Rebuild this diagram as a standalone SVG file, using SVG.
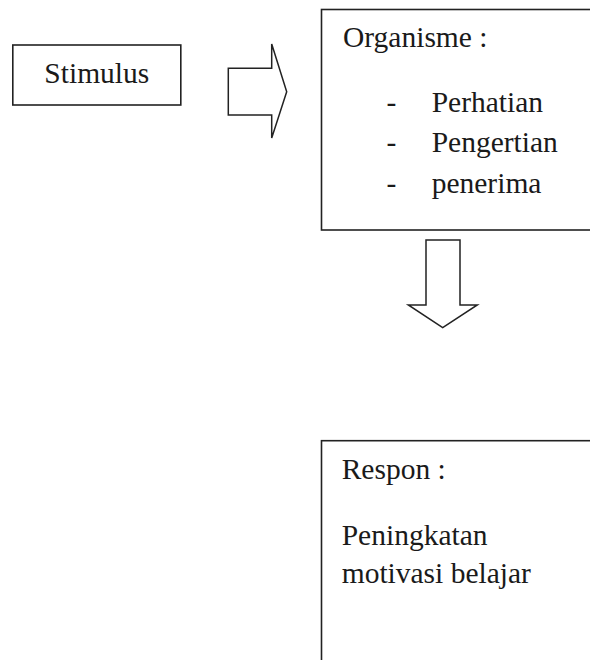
<svg xmlns="http://www.w3.org/2000/svg" width="590" height="660" viewBox="0 0 590 660">
<style>
.box{fill:#fff;stroke:#222;stroke-width:1.6}
.arr{fill:#fff;stroke:#222;stroke-width:1.5;stroke-linejoin:miter}
.t{font-family:'Liberation Serif','Times New Roman','DejaVu Serif',serif;font-size:29.5px;fill:#1a1a1a}
</style>
<rect width="590" height="660" fill="#fff"/>
<g id="stimulus">
<rect class="box" x="12.8" y="45" width="168" height="60"/>
<text class="t" font-family="Liberation Serif, serif" x="96.8" y="83.3" text-anchor="middle">Stimulus</text>
</g>
<g id="organisme">
<rect class="box" x="321.5" y="9.5" width="300" height="220.5"/>
<text class="t" font-family="Liberation Serif, serif" x="343" y="46.7">Organisme :</text>
<text class="t" font-family="Liberation Serif, serif" x="386.5" y="111.7">-</text>
<text class="t" font-family="Liberation Serif, serif" x="431.7" y="111.7">Perhatian</text>
<text class="t" font-family="Liberation Serif, serif" x="386.5" y="152.2">-</text>
<text class="t" font-family="Liberation Serif, serif" x="431.7" y="152.2">Pengertian</text>
<text class="t" font-family="Liberation Serif, serif" x="386.5" y="192.7">-</text>
<text class="t" font-family="Liberation Serif, serif" x="431.7" y="192.7">penerima</text>
</g>
<g id="respon">
<rect class="box" x="321.5" y="440.7" width="300" height="260"/>
<text class="t" font-family="Liberation Serif, serif" x="341.7" y="479">Respon :</text>
<text class="t" font-family="Liberation Serif, serif" x="341.7" y="545">Peningkatan</text>
<text class="t" font-family="Liberation Serif, serif" x="341.7" y="583.3">motivasi belajar</text>
</g>
<g id="connectors">
<path class="arr" d="M228.3,68.3 H271.7 V44 L286.7,91.7 L271.7,138 V115 H228.3 Z"/>
<path class="arr" d="M426,240 H460 V305 H477.3 L442.7,327.7 L408.3,305 H426 Z"/>
</g>
</svg>
